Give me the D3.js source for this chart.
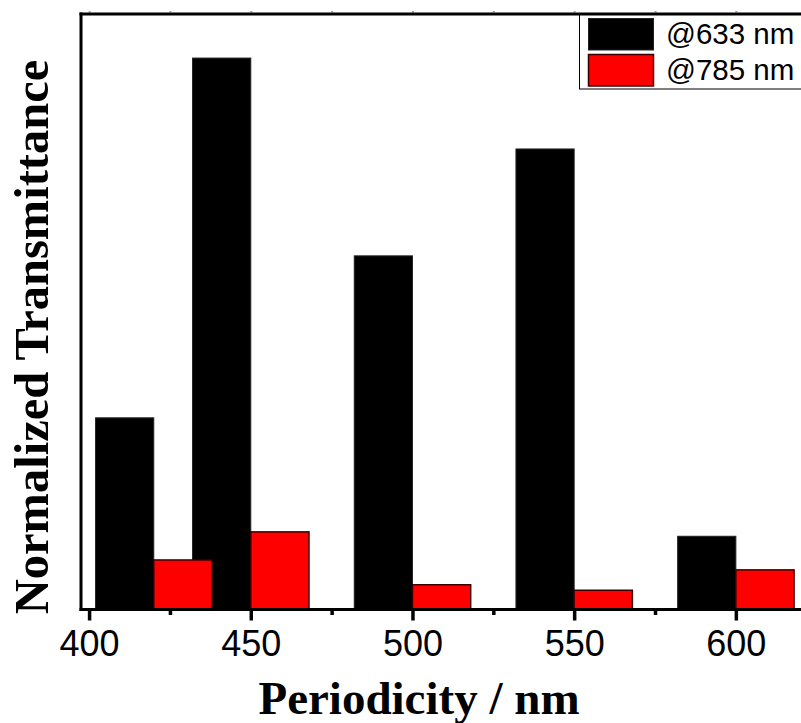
<!DOCTYPE html>
<html>
<head>
<meta charset="utf-8">
<script src="https://cdn.jsdelivr.net/npm/d3@7"></script>
<style>
  html, body { margin: 0; padding: 0; background: #fff; }
  svg { display: block; }
</style>
</head>
<body>
<svg id="chart" width="801" height="723"></svg>
<script>
// Grating periods (nm) and normalized transmittance at two laser lines
const periods = [420, 450, 500, 550, 600];
const trans633 = [0.347, 1.0, 0.641, 0.835, 0.132];
const trans785 = [0.089, 0.140, 0.044, 0.034, 0.071];
const seriesNames = ["@633 nm", "@785 nm"];
const seriesColors = ["#000000", "#ff0000"];
const xTicks = [400, 450, 500, 550, 600];
const xMinorTicks = [425, 475, 525, 575];
const barWidth = 18; // in nm, each bar sits beside its period value

const svg = d3.select("#chart");

const x = d3.scaleLinear().domain([397.5, 622]).range([81, 807]);
const y = d3.scaleLinear().domain([0, 1.08]).range([609, 14]);

// Bars: 633 nm to the left of each period, 785 nm to the right
const bars = svg.append("g");
bars.selectAll("rect.b633")
  .data(periods.map((p, i) => ({ p, v: trans633[i] })))
  .join("rect")
  .attr("class", "b633")
  .attr("x", d => x(d.p - barWidth))
  .attr("width", d => x(d.p) - x(d.p - barWidth))
  .attr("y", d => y(d.v))
  .attr("height", d => y(0) - y(d.v))
  .attr("fill", seriesColors[0])
  .attr("stroke", "#222")
  .attr("stroke-width", 1);

bars.selectAll("rect.b785")
  .data(periods.map((p, i) => ({ p, v: trans785[i] })))
  .join("rect")
  .attr("class", "b785")
  .attr("x", d => x(d.p))
  .attr("width", d => x(d.p + barWidth) - x(d.p))
  .attr("y", d => y(d.v))
  .attr("height", d => y(0) - y(d.v))
  .attr("fill", seriesColors[1])
  .attr("stroke", "#3a0000")
  .attr("stroke-width", 1.5);

// Frame: left, top and bottom borders
const frame = svg.append("g").attr("stroke", "#000").attr("stroke-width", 3).attr("fill", "none");
frame.append("line").attr("x1", 81).attr("x2", 81).attr("y1", 12.5).attr("y2", 611);
frame.append("line").attr("x1", 79.5).attr("x2", 810).attr("y1", 14).attr("y2", 14);

// Bottom axis with major and minor ticks
const axisY = 609.5;
const xAxis = d3.axisBottom(x).tickValues(xTicks).tickFormat(d3.format("d")).tickSize(11).tickSizeOuter(0).tickPadding(0);
const gx = svg.append("g").attr("transform", `translate(0,${axisY})`).call(xAxis);
gx.select(".domain").attr("stroke", "#000").attr("stroke-width", 3).attr("d", "M79.5,0H810");
gx.selectAll(".tick line").attr("stroke", "#000").attr("stroke-width", 3.5);
gx.selectAll(".tick text")
  .attr("fill", "#000")
  .attr("font-family", "Arial, 'Liberation Sans', sans-serif")
  .attr("font-size", 36)
  .attr("y", 21)
  .attr("dy", "0.71em");

const gxMinor = svg.append("g").attr("transform", `translate(0,${axisY})`)
  .call(d3.axisBottom(x).tickValues(xMinorTicks).tickFormat("").tickSize(5.5).tickSizeOuter(0));
gxMinor.select(".domain").remove();
gxMinor.selectAll(".tick line").attr("stroke", "#000").attr("stroke-width", 3.5);

// Small ticks on the top border
const gTop = svg.append("g").attr("transform", "translate(0,12.5)")
  .call(d3.axisTop(x).tickValues(xTicks.concat(xMinorTicks)).tickFormat("").tickSize(1.5).tickSizeOuter(0));
gTop.select(".domain").remove();
gTop.selectAll(".tick line").attr("stroke", "#999").attr("stroke-width", 2);

// Axis titles
svg.append("text")
  .attr("x", 419)
  .attr("y", 714)
  .attr("text-anchor", "middle")
  .attr("font-family", "'Times New Roman', 'Liberation Serif', serif")
  .attr("font-weight", "bold")
  .attr("font-size", 47)
  .attr("fill", "#000")
  .text("Periodicity / nm");

svg.append("text")
  .attr("transform", "translate(48,337) rotate(-90)")
  .attr("text-anchor", "middle")
  .attr("font-family", "'Times New Roman', 'Liberation Serif', serif")
  .attr("font-weight", "bold")
  .attr("font-size", 48.5)
  .attr("fill", "#000")
  .text("Normalized Transmittance");

// Legend
const legend = svg.append("g");
legend.append("rect")
  .attr("x", 579.5).attr("y", 14).attr("width", 240).attr("height", 75)
  .attr("fill", "#fff").attr("stroke", "#000").attr("stroke-width", 1);
frame.raise();
seriesNames.forEach((name, i) => {
  const top = 18.5 + i * 36;
  legend.append("rect")
    .attr("x", 588.5).attr("y", top).attr("width", 65).attr("height", 31.5)
    .attr("fill", seriesColors[i])
    .attr("stroke", i === 0 ? "#222" : "#3a0000")
    .attr("stroke-width", i === 0 ? 1 : 1.5);
  legend.append("text")
    .attr("x", 666)
    .attr("y", top + 25.5)
    .attr("font-family", "Arial, 'Liberation Sans', sans-serif")
    .attr("font-size", 29.5)
    .attr("fill", "#000")
    .text(name);
});
</script>
</body>
</html>
